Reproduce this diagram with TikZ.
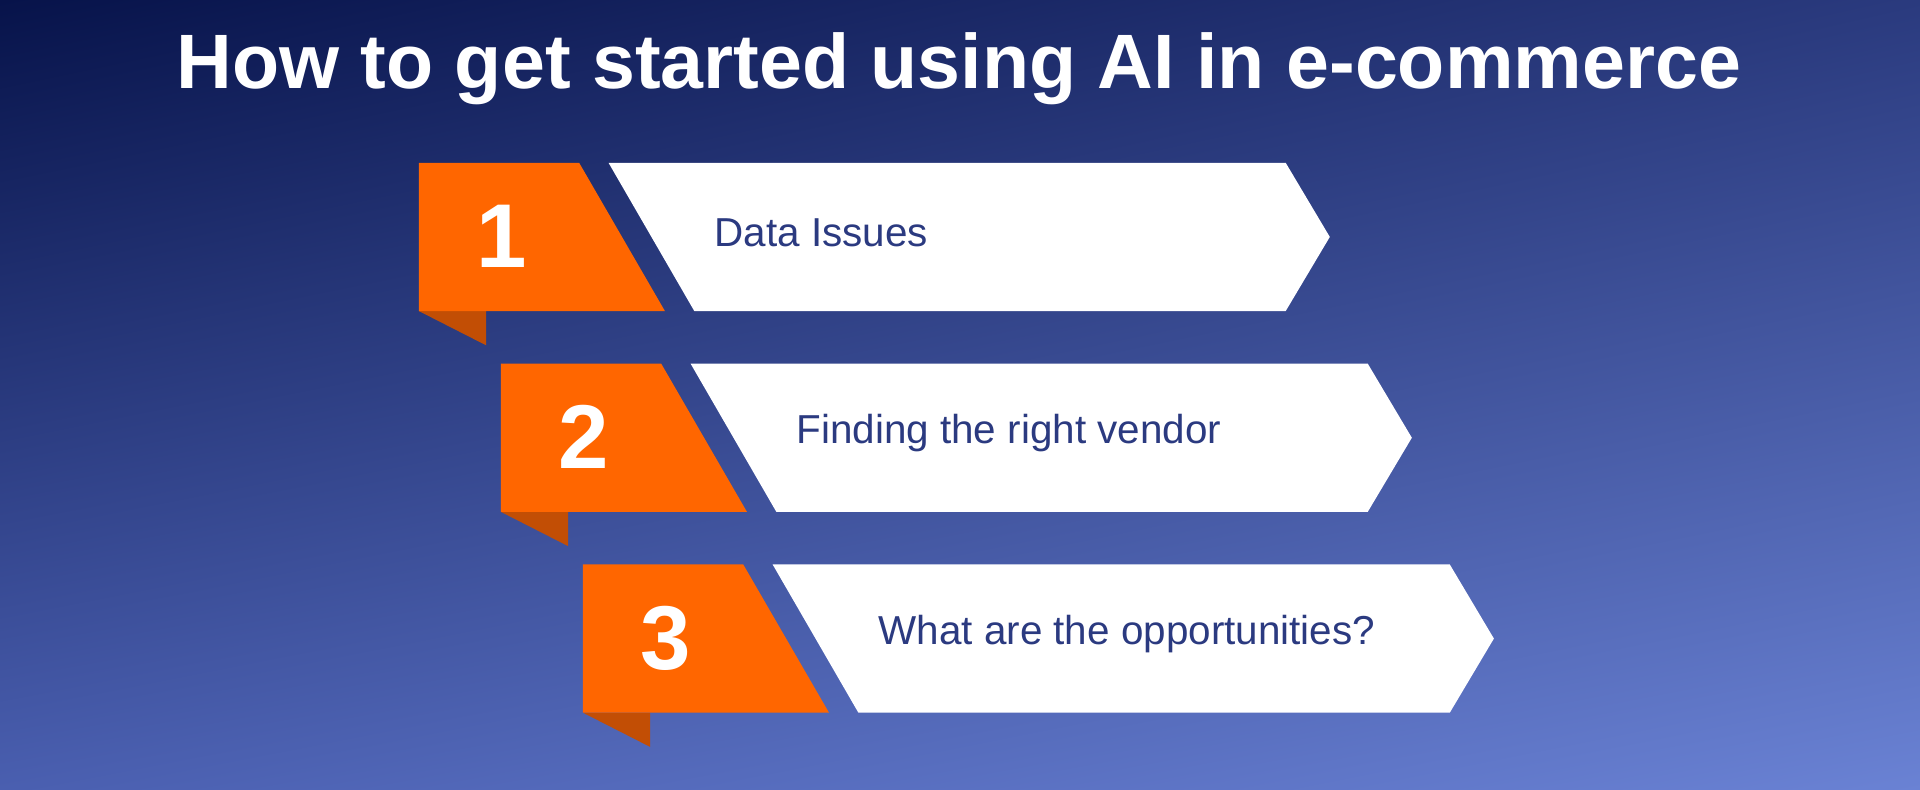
\documentclass[tikz,border=0pt]{standalone}
\usepackage{fontspec}
\setmainfont{Liberation Sans}
\usetikzlibrary{shadings}
\begin{document}
\begin{tikzpicture}[x=1pt,y=-1pt,
  numtxt/.style={text=white,font=\fontsize{74}{74}\selectfont\bfseries},
  steptxt/.style={text=textc,font=\fontsize{33}{33}\selectfont,anchor=west}]
\definecolor{orangec}{HTML}{FF6600}
\definecolor{foldc}{HTML}{C24E05}
\definecolor{textc}{HTML}{2B3A80}
\definecolor{bgtl}{HTML}{07134A}
\definecolor{bgtr}{HTML}{2A3A7E}
\definecolor{bgbl}{HTML}{4A5FB0}
\definecolor{bgbr}{HTML}{6A82D4}
\useasboundingbox (0,0) rectangle (1568,645);
\shade[upper left=bgtl,upper right=bgtr,lower left=bgbl,lower right=bgbr] (0,0) rectangle (1568,645);
\node[text=white,font=\fontsize{63}{63}\selectfont\bfseries] (title) at (783,56) {How to get started using AI in e-commerce};
\foreach \i/\t in {1/Data Issues,2/Finding the right vendor,3/What are the opportunities?}{
  \pgfmathsetmacro{\dx}{(\i-1)*67}
  \pgfmathsetmacro{\dy}{(\i-1)*164}
  \begin{scope}[shift={(\dx,\dy)}]
    \fill[foldc] (342,254) -- (397,254) -- (397,282) -- cycle;
    \fill[orangec] (342,133) -- (473,133) -- (543,254) -- (342,254) -- cycle;
    \fill[white] (497,133) -- (1050,133) -- (1086,193.5) -- (1050,254) -- (567,254) -- cycle;
    \node[numtxt] (n\i) at (410,193) {\i};
    \node[steptxt] (s\i) at (580,190) {\t};
  \end{scope}
}
\end{tikzpicture}
\end{document}
